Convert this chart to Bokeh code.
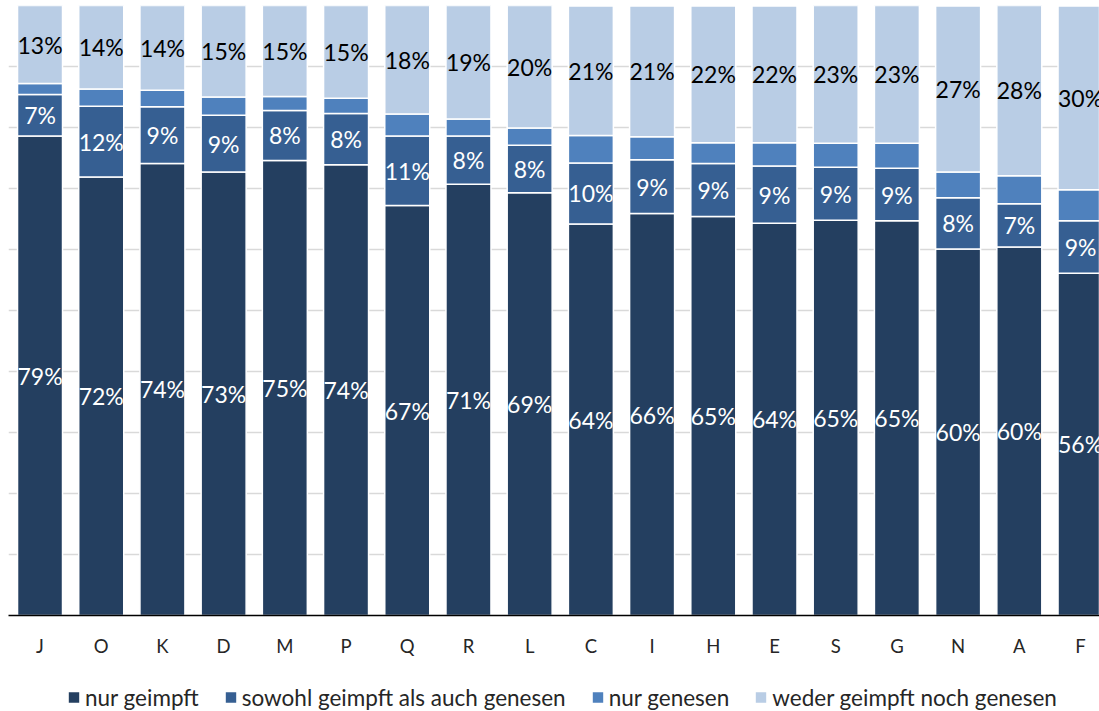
import numpy as np
from bokeh.plotting import figure
from bokeh.layouts import column
from bokeh.models import (ColumnDataSource, Range1d, FixedTicker, Grid, Legend, LegendItem)
from bokeh.core.properties import value
from bokeh.embed import file_html
from bokeh.resources import INLINE

categories = ["J", "O", "K", "D", "M", "P", "Q", "R", "L", "C", "I", "H", "E", "S", "G", "N", "A", "F"]
series_names = ["nur geimpft", "sowohl geimpft als auch genesen", "nur genesen", "weder geimpft noch genesen"]
nur_geimpft = [78.6, 71.9, 74.1, 72.7, 74.6, 73.9, 67.2, 70.7, 69.3, 64.2, 65.9, 65.4, 64.3, 64.8, 64.7, 60.1, 60.4, 56.1]
sowohl = [6.8, 11.6, 9.3, 9.3, 8.2, 8.4, 11.4, 7.9, 7.8, 10.0, 8.8, 8.7, 9.4, 8.7, 8.6, 8.4, 7.1, 8.6]
nur_genesen = [1.8, 2.8, 2.7, 3.0, 2.3, 2.5, 3.6, 2.8, 2.8, 4.5, 3.8, 3.4, 3.8, 3.9, 4.1, 4.2, 4.6, 5.1]
weder = [12.8, 13.8, 13.9, 15.0, 14.9, 15.2, 17.8, 18.6, 20.1, 21.2, 21.4, 22.4, 22.4, 22.6, 22.6, 27.2, 28.0, 30.1]

colors = ["#243F60", "#365F92", "#4F81BD", "#B9CDE5"]
label_colors = ["white", "white", None, "black"]
FONT = "Lato"

series = [nur_geimpft, sowohl, nur_genesen, weder]
x = np.arange(len(categories))

p = figure(frame_width=1091, frame_height=610, output_backend="svg", toolbar_location=None,
           x_range=Range1d(-0.515, 17.31), y_range=Range1d(0, 100),
           y_axis_location=None, min_border_left=8, min_border_right=0,
           min_border_top=5, min_border_bottom=60)
p.outline_line_color = None
p.xgrid.visible = False
p.ygrid.visible = False
p.add_layout(Grid(dimension=1, ticker=FixedTicker(ticks=list(range(0, 101, 10))),
                  grid_line_color="#D9D9D9", grid_line_width=1.3))

bottom = np.zeros(len(categories))
for name, vals, col, lcol in zip(series_names, series, colors, label_colors):
    vals = np.array(vals, dtype=float)
    top = bottom + vals
    src = ColumnDataSource(dict(x=x, bottom=bottom.copy(), top=top, mid=(bottom + top) / 2,
                                lab=[f"{round(v)}%" for v in vals]))
    p.vbar(x="x", width=0.735, bottom="bottom", top="top", source=src,
           fill_color=col, line_color="white", line_width=1.5)
    if lcol is not None:
        p.text(x="x", y="mid", text="lab", source=src, text_align="center",
               text_baseline="middle", text_color=lcol, text_font=value(FONT),
               text_font_size="23px")
    bottom = top

xa = p.xaxis[0]
xa.ticker = FixedTicker(ticks=list(x))
xa.major_label_overrides = {int(i): c for i, c in enumerate(categories)}
xa.major_tick_line_color = None
xa.minor_tick_line_color = None
xa.axis_line_color = "black"
xa.axis_line_width = 1.5
xa.major_label_standoff = 13
xa.major_label_text_font = FONT
xa.major_label_text_font_size = "18.5px"
xa.major_label_text_color = "#262626"

# legend strip below the chart
lg = figure(width=1099, height=36, output_backend="svg", toolbar_location=None,
            x_range=Range1d(0, 1), y_range=Range1d(0, 1),
            x_axis_location=None, y_axis_location=None,
            min_border_left=8, min_border_right=0, min_border_top=8, min_border_bottom=0)
lg.outline_line_color = None
lg.xgrid.visible = False
lg.ygrid.visible = False
items = []
for name, col in zip(series_names, colors):
    r = lg.vbar(x=[0.5], bottom=[0], top=[0], width=0.001, fill_color=col, line_color=None)
    items.append(LegendItem(label=name, renderers=[r]))
legend = Legend(items=items, orientation="horizontal", location="center_left",
                glyph_width=13, glyph_height=13, label_standoff=5, spacing=25,
                padding=0, margin=59, background_fill_alpha=0, border_line_alpha=0,
                label_text_font=FONT, label_text_font_size="22.5px",
                label_text_color="#262626")
lg.add_layout(legend, "center")

layout = column(p, lg, spacing=0)
open("out.html", "w").write(file_html(layout, INLINE))
